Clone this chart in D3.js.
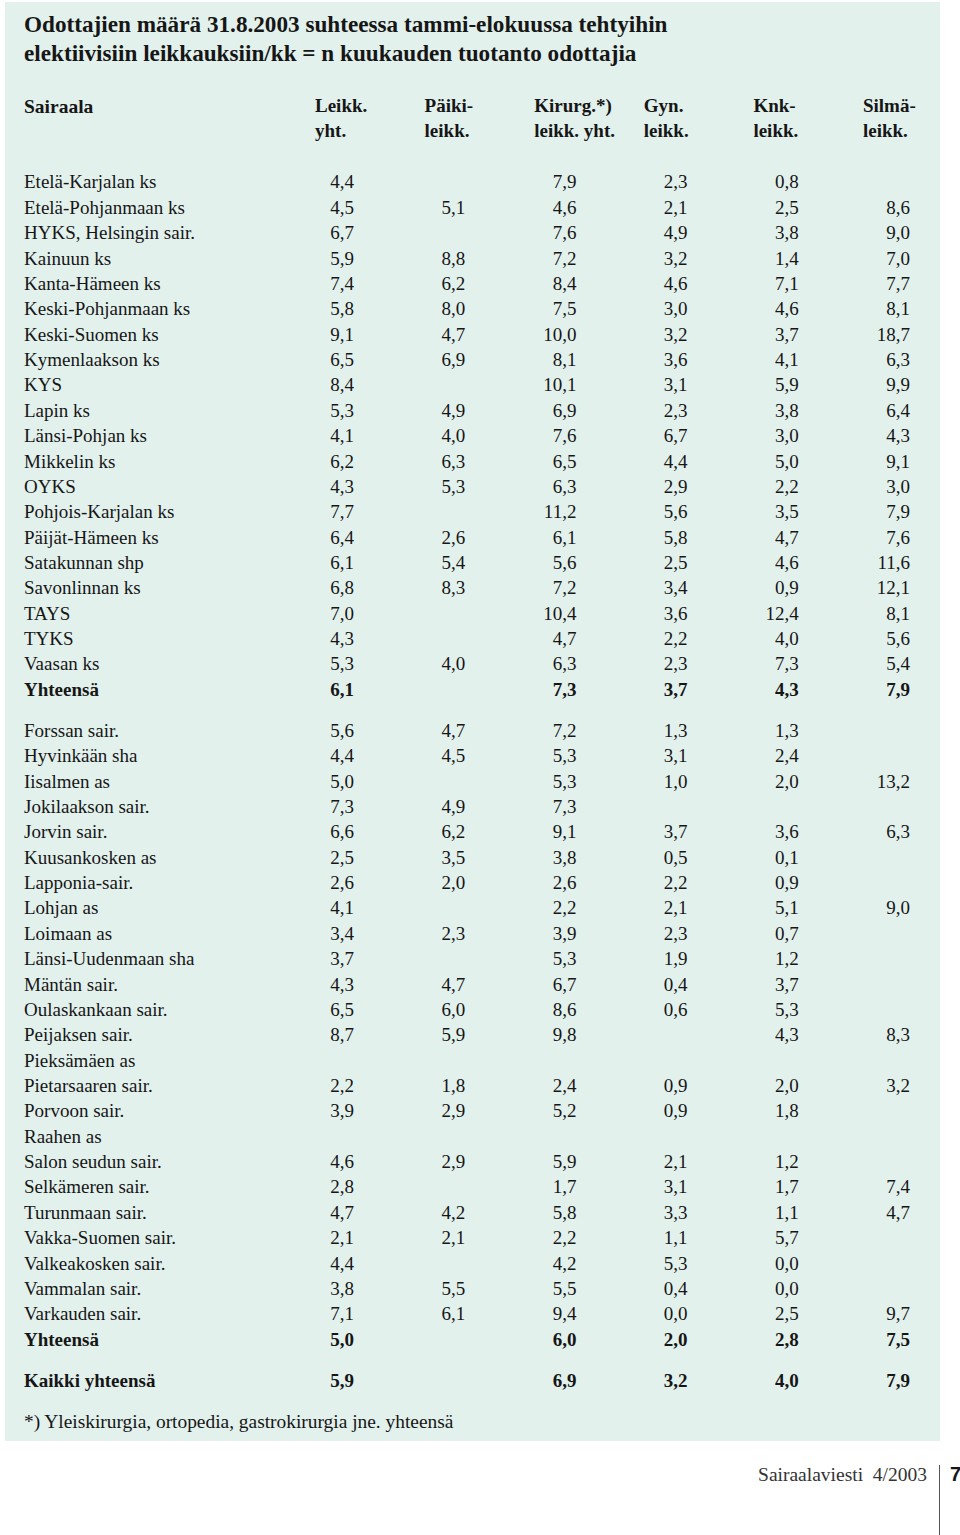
<!DOCTYPE html>
<html>
<head>
<meta charset="utf-8">
<script src="https://cdn.jsdelivr.net/npm/d3@7"></script>
<style>
  html, body { margin: 0; padding: 0; background: #ffffff; }
  svg { display: block; }
</style>
</head>
<body>
<div id="chart"></div>
<script>
// ---------- DATA ----------
const titleLines = [
  "Odottajien määrä 31.8.2003 suhteessa tammi-elokuussa tehtyihin",
  "elektiivisiin leikkauksiin/kk = n kuukauden tuotanto odottajia"
];
const rowHeader = "Sairaala";
const columnHeaders = [
  ["Leikk.", "yht."],
  ["Päiki-", "leikk."],
  ["Kirurg.*)", "leikk. yht."],
  ["Gyn.", "leikk."],
  ["Knk-", "leikk."],
  ["Silmä-", "leikk."]
];
// section 0: keskussairaalat, section 1: muut sairaalat, section 2: kaikki
const hospitals = [
  "Etelä-Karjalan ks", "Etelä-Pohjanmaan ks", "HYKS, Helsingin sair.", "Kainuun ks",
  "Kanta-Hämeen ks", "Keski-Pohjanmaan ks", "Keski-Suomen ks", "Kymenlaakson ks",
  "KYS", "Lapin ks", "Länsi-Pohjan ks", "Mikkelin ks", "OYKS", "Pohjois-Karjalan ks",
  "Päijät-Hämeen ks", "Satakunnan shp", "Savonlinnan ks", "TAYS", "TYKS", "Vaasan ks",
  "Yhteensä",
  "Forssan sair.", "Hyvinkään sha", "Iisalmen as", "Jokilaakson sair.", "Jorvin sair.",
  "Kuusankosken as", "Lapponia-sair.", "Lohjan as", "Loimaan as", "Länsi-Uudenmaan sha",
  "Mäntän sair.", "Oulaskankaan sair.", "Peijaksen sair.", "Pieksämäen as",
  "Pietarsaaren sair.", "Porvoon sair.", "Raahen as", "Salon seudun sair.",
  "Selkämeren sair.", "Turunmaan sair.", "Vakka-Suomen sair.", "Valkeakosken sair.",
  "Vammalan sair.", "Varkauden sair.",
  "Yhteensä",
  "Kaikki yhteensä"
];
const sections = [0,0,0,0,0,0,0,0,0,0,0,0,0,0,0,0,0,0,0,0,0,
  1,1,1,1,1,1,1,1,1,1,1,1,1,1,1,1,1,1,1,1,1,1,1,1,1,
  2];
const totalRows = ["Yhteensä", "Kaikki yhteensä"];

const leikkYht = [4.4,4.5,6.7,5.9,7.4,5.8,9.1,6.5,8.4,5.3,4.1,6.2,4.3,7.7,6.4,6.1,6.8,7.0,4.3,5.3,6.1,
  5.6,4.4,5.0,7.3,6.6,2.5,2.6,4.1,3.4,3.7,4.3,6.5,8.7,null,2.2,3.9,null,4.6,2.8,4.7,2.1,4.4,3.8,7.1,5.0,
  5.9];
const paikiLeikk = [null,5.1,null,8.8,6.2,8.0,4.7,6.9,null,4.9,4.0,6.3,5.3,null,2.6,5.4,8.3,null,null,4.0,null,
  4.7,4.5,null,4.9,6.2,3.5,2.0,null,2.3,null,4.7,6.0,5.9,null,1.8,2.9,null,2.9,null,4.2,2.1,null,5.5,6.1,null,
  null];
const kirurgLeikk = [7.9,4.6,7.6,7.2,8.4,7.5,10.0,8.1,10.1,6.9,7.6,6.5,6.3,11.2,6.1,5.6,7.2,10.4,4.7,6.3,7.3,
  7.2,5.3,5.3,7.3,9.1,3.8,2.6,2.2,3.9,5.3,6.7,8.6,9.8,null,2.4,5.2,null,5.9,1.7,5.8,2.2,4.2,5.5,9.4,6.0,
  6.9];
const gynLeikk = [2.3,2.1,4.9,3.2,4.6,3.0,3.2,3.6,3.1,2.3,6.7,4.4,2.9,5.6,5.8,2.5,3.4,3.6,2.2,2.3,3.7,
  1.3,3.1,1.0,null,3.7,0.5,2.2,2.1,2.3,1.9,0.4,0.6,null,null,0.9,0.9,null,2.1,3.1,3.3,1.1,5.3,0.4,0.0,2.0,
  3.2];
const knkLeikk = [0.8,2.5,3.8,1.4,7.1,4.6,3.7,4.1,5.9,3.8,3.0,5.0,2.2,3.5,4.7,4.6,0.9,12.4,4.0,7.3,4.3,
  1.3,2.4,2.0,null,3.6,0.1,0.9,5.1,0.7,1.2,3.7,5.3,4.3,null,2.0,1.8,null,1.2,1.7,1.1,5.7,0.0,0.0,2.5,2.8,
  4.0];
const silmaLeikk = [null,8.6,9.0,7.0,7.7,8.1,18.7,6.3,9.9,6.4,4.3,9.1,3.0,7.9,7.6,11.6,12.1,8.1,5.6,5.4,7.9,
  null,null,13.2,null,6.3,null,null,9.0,null,null,null,null,8.3,null,3.2,null,null,null,7.4,4.7,null,null,null,9.7,7.5,
  7.9];

const footnote = "*) Yleiskirurgia, ortopedia, gastrokirurgia jne. yhteensä";
const sourceText = "Sairaalaviesti  4/2003";
const pageNumber = "7";

// ---------- LAYOUT ----------
const W = 960, H = 1535;
const serif = "'Liberation Serif', 'Times New Roman', serif";
const ink = "#161616";
const panelFill = "#e3f1ed";

const columns = [leikkYht, paikiLeikk, kirurgLeikk, gynLeikk, knkLeikk, silmaLeikk];
const colIdx = d3.range(columns.length);

const fiLocale = d3.formatLocale({decimal: ",", thousands: " ", grouping: [3], currency: ["", " €"]});
const fmt = fiLocale.format(".1f");

const xVal = d3.scalePoint().domain(colIdx).range([354, 910]);   // right edges of numbers
const xHead = d3.scalePoint().domain(colIdx).range([315, 863]);  // left edges of headers
const rowStep = 25.37, sectionGap = 15.6;
const yRow = d3.scaleLinear().domain([0, 1]).range([182, 182 + rowStep]);
const rowY = i => yRow(i) + sections[i] * sectionGap;

const svg = d3.select("#chart").append("svg")
  .attr("width", W).attr("height", H)
  .attr("viewBox", `0 0 ${W} ${H}`);

svg.append("rect").attr("x", 0).attr("y", 0).attr("width", W).attr("height", H).attr("fill", "#fff");
svg.append("rect").attr("x", 5).attr("y", 2).attr("width", 935).attr("height", 1439).attr("fill", panelFill);

// Title
svg.append("g").selectAll("text").data(titleLines).join("text")
  .attr("x", 24).attr("y", (d, i) => 24 + i * 29).attr("dy", "0.34em")
  .attr("font-family", serif).attr("font-weight", "bold").attr("font-size", 23.2)
  .attr("fill", ink).text(d => d);

// Headers
svg.append("text").attr("x", 24).attr("y", 106).attr("dy", "0.34em")
  .attr("font-family", serif).attr("font-weight", "bold").attr("font-size", 19.5)
  .attr("fill", ink).text(rowHeader);
const hg = svg.append("g").selectAll("g").data(columnHeaders).join("g");
hg.selectAll("text").data((d, i) => d.map(t => ({t, c: i}))).join("text")
  .attr("x", d => xHead(d.c)).attr("y", (d, j) => 106 + j * 25).attr("dy", "0.34em")
  .attr("font-family", serif).attr("font-weight", "bold").attr("font-size", 19)
  .attr("fill", ink).text(d => d.t);

// Rows
const rows = svg.append("g").selectAll("g").data(hospitals).join("g")
  .attr("transform", (d, i) => `translate(0,${rowY(i)})`)
  .attr("font-weight", d => totalRows.includes(d) ? "bold" : "normal");

rows.append("text").attr("x", 24).attr("dy", "0.34em")
  .attr("font-family", serif).attr("font-size", 19).attr("fill", ink)
  .text(d => d);

rows.selectAll("text.v").data((d, i) => colIdx.map(c => ({c, v: columns[c][i]})).filter(o => o.v !== null))
  .join("text").attr("class", "v")
  .attr("x", d => xVal(d.c)).attr("dy", "0.34em").attr("text-anchor", "end")
  .attr("font-family", serif).attr("font-size", 19).attr("fill", ink)
  .text(d => fmt(d.v));

// Footnote
svg.append("text").attr("x", 24).attr("y", 1421).attr("dy", "0.34em")
  .attr("font-family", serif).attr("font-size", 19.4).attr("fill", ink).text(footnote);

// Page footer
svg.append("text").attr("x", 927).attr("y", 1474).attr("dy", "0.34em").attr("text-anchor", "end")
  .attr("font-family", serif).attr("font-size", 19.5).attr("fill", "#333")
  .attr("xml:space", "preserve").style("white-space", "pre").text(sourceText);
svg.append("line").attr("x1", 939.5).attr("x2", 939.5).attr("y1", 1465).attr("y2", H)
  .attr("stroke", "#555").attr("stroke-width", 1);
svg.append("text").attr("x", 950).attr("y", 1474).attr("dy", "0.36em")
  .attr("font-family", "'Liberation Sans', Arial, sans-serif").attr("font-weight", "bold")
  .attr("font-size", 20).attr("fill", ink).text(pageNumber);
</script>
</body>
</html>
